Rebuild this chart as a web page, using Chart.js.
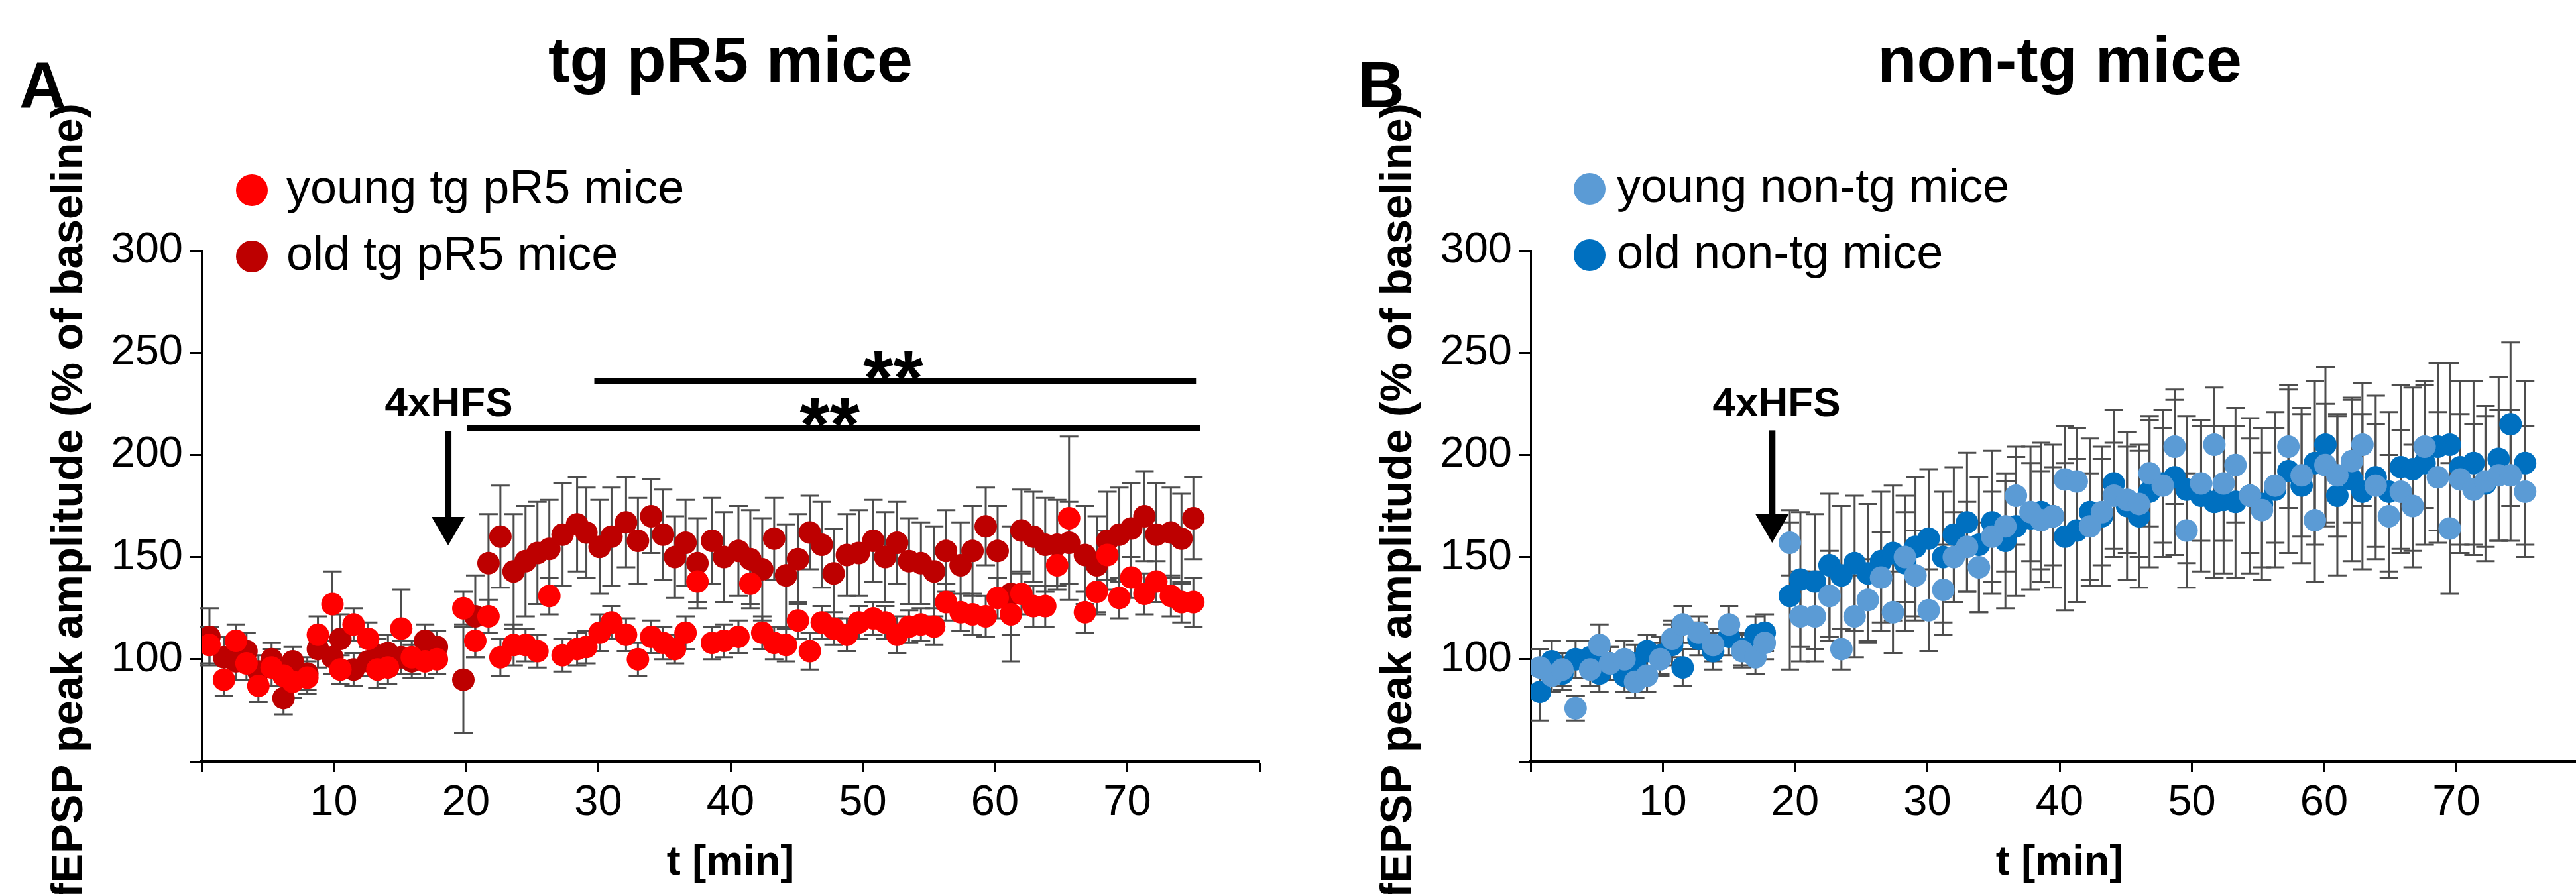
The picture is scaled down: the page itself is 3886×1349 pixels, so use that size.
<!DOCTYPE html>
<html>
<head>
<meta charset="utf-8">
<script src="https://cdn.jsdelivr.net/npm/chart.js@4.4.1/dist/chart.umd.min.js"></script>
<style>
  html, body { margin: 0; padding: 0; background: #fff; overflow: hidden; }
  body { width: 3886px; height: 1349px; position: relative; }
  .panel { position: absolute; top: 0; width: 1943px; height: 1349px; }
  #panelA { left: 0; }
  #panelB { left: 2005px; }
</style>
</head>
<body>
<div class="panel" id="panelA"><canvas id="chartA" width="1943" height="1349"></canvas></div>
<div class="panel" id="panelB"><canvas id="chartB" width="1943" height="1349"></canvas></div>
<script>
// Axis ticks (shared by both panels)
const xTickValues = [0, 10, 20, 30, 40, 50, 60, 70, 80];
const xTickLabels = ['', '10', '20', '30', '40', '50', '60', '70', ''];
const yTickValues = [50, 100, 150, 200, 250, 300];
const yTickLabels = ['', '100', '150', '200', '250', '300'];

// Panel A: tg pR5 mice, time points [min]
const timeA = [0.6, 1.7, 2.6, 3.4, 4.3, 5.3, 6.2, 6.9, 8.0, 8.8, 9.9, 10.5, 11.5, 12.6, 13.3, 14.1, 15.1, 15.9, 16.9, 17.8,
  19.8, 20.7, 21.7, 22.6, 23.6, 24.5, 25.4, 26.3, 27.3, 28.4, 29.1, 30.1, 31.0, 32.1, 33.0, 34.0, 34.9, 35.8, 36.6, 37.5,
  38.6, 39.5, 40.6, 41.5, 42.4, 43.3, 44.2, 45.1, 46.0, 46.9, 47.8, 48.8, 49.7, 50.8, 51.7, 52.6, 53.5, 54.4, 55.4, 56.3,
  57.4, 58.3, 59.3, 60.2, 61.2, 62.0, 62.9, 63.8, 64.7, 65.6, 66.8, 67.7, 68.5, 69.4, 70.3, 71.3, 72.2, 73.3, 74.1, 75.0];

const youngTg = [107, 90, 109, 98, 87, 96, 92, 89, 91, 112, 127, 95, 117, 110, 95, 96, 115, 101, 99, 100,
  125, 109, 121, 101, 107, 107, 104, 131, 102, 105, 106, 113, 118, 112, 100, 111, 108, 105, 113, 138,
  108, 109, 111, 137, 113, 108, 107, 119, 104, 118, 115, 112, 118, 120, 118, 112, 116, 117, 116, 128,
  123, 122, 121, 130, 122, 132, 126, 126, 146, 169, 123, 133, 151, 130, 140, 132, 138, 131, 128, 128];
const youngTgErr = [9, 8, 8, 8, 8, 9, 8, 8, 8, 9, 16, 7, 8, 8, 9, 8, 19, 8, 8, 7,
  8, 8, 8, 9, 10, 8, 8, 9, 8, 8, 8, 9, 8, 8, 8, 8, 8, 7, 8, 10,
  8, 8, 8, 10, 8, 8, 8, 9, 9, 8, 8, 8, 8, 8, 8, 9, 8, 8, 9, 9,
  9, 10, 10, 10, 10, 10, 10, 10, 10, 40, 10, 10, 12, 10, 10, 10, 10, 10, 10, 12];

const oldTg = [111, 101, 99, 104, 94, 100, 81, 99, 93, 105, 101, 110, 95, 99, 102, 103, 101, 99, 109, 106,
  90, 121, 147, 160, 143, 148, 152, 154, 161, 166, 162, 155, 160, 167, 158, 170, 161, 150, 157, 147,
  158, 150, 153, 149, 144, 159, 141, 149, 162, 156, 142, 151, 152, 158, 150, 157, 148, 147, 143, 153,
  146, 153, 165, 153, 132, 163, 160, 156, 156, 157, 151, 146, 158, 161, 164, 170, 161, 162, 159, 169];
const oldTgErr = [14, 10, 9, 9, 8, 8, 8, 7, 8, 9, 8, 12, 8, 7, 8, 9, 8, 8, 8, 8,
  26, 20, 24, 25, 28, 27, 25, 24, 25, 23, 22, 23, 24, 22, 21, 18, 22, 20, 21, 22,
  21, 22, 22, 24, 25, 20, 25, 22, 18, 21, 22, 20, 21, 20, 22, 20, 21, 20, 22, 20,
  21, 22, 19, 22, 33, 20, 22, 23, 22, 20, 24, 24, 24, 23, 22, 22, 25, 22, 22, 20];

// Panel B: non-tg mice, time points [min]
const timeB = [0.7, 1.6, 2.4, 3.4, 4.5, 5.2, 6.0, 7.1, 7.9, 8.8, 9.8, 10.7, 11.5, 12.7, 13.8, 15.0, 16.0, 17.0, 17.7,
  19.6, 20.4, 21.5, 22.6, 23.5, 24.5, 25.5, 26.5, 27.4, 28.3, 29.1, 30.1, 31.2, 32.0, 33.0, 33.9, 34.9, 35.9, 36.7, 37.8,
  38.6, 39.5, 40.4, 41.3, 42.3, 43.2, 44.1, 45.1, 46.0, 46.8, 47.8, 48.7, 49.6, 50.7, 51.7, 52.4, 53.3, 54.4, 55.3, 56.3,
  57.3, 58.3, 59.3, 60.1, 61.0, 62.1, 62.9, 63.9, 64.9, 65.8, 66.7, 67.6, 68.6, 69.5, 70.3, 71.3, 72.2, 73.2, 74.1, 75.2];

const youngNonTg = [96, 92, 95, 76, 95, 107, 98, 100, 89, 92, 100, 110, 117, 113, 107, 117, 104, 101, 108,
  157, 121, 121, 131, 105, 121, 129, 140, 123, 150, 141, 124, 134, 150, 155, 145, 160, 165, 180, 172,
  168, 170, 188, 187, 165, 172, 180, 178, 176, 191, 185, 204, 163, 186, 205, 186, 195, 180, 173, 185,
  204, 190, 168, 195, 190, 197, 205, 185, 170, 182, 175, 204, 189, 164, 188, 183, 187, 190, 190, 182];
const youngNonTgErr = [9, 8, 8, 6, 8, 10, 8, 9, 8, 8, 8, 9, 9, 8, 8, 9, 8, 8, 8,
  16, 22, 22, 22, 10, 20, 20, 22, 20, 22, 22, 20, 22, 22, 22, 22, 22, 22, 24, 24,
  24, 24, 26, 26, 26, 26, 26, 26, 26, 26, 28, 28, 28, 28, 28, 28, 28, 28, 28, 28,
  30, 30, 30, 30, 30, 30, 30, 30, 30, 30, 30, 30, 32, 32, 32, 32, 32, 32, 32, 32];

const oldNonTg = [84, 99, 93, 100, 101, 93, 98, 92, 98, 104, 102, 107, 96, 110, 104, 111, 105, 112, 113,
  131, 139, 138, 146, 141, 147, 142, 148, 152, 147, 155, 159, 150, 161, 167, 156, 167, 158, 165, 169,
  172, 170, 160, 163, 172, 170, 186, 175, 170, 182, 186, 189, 183, 180, 177, 178, 177, 180, 176, 183,
  192, 185, 196, 205, 180, 188, 182, 189, 182, 194, 193, 196, 204, 205, 194, 196, 186, 198, 215, 196];
const oldNonTgErr = [14, 10, 8, 9, 8, 9, 8, 8, 9, 8, 9, 10, 9, 8, 9, 9, 8, 9, 9,
  36, 33, 33, 35, 34, 33, 34, 34, 33, 33, 34, 34, 32, 33, 34, 33, 35, 33, 34, 35,
  34, 35, 36, 35, 36, 34, 36, 36, 35, 37, 36, 38, 36, 37, 37, 36, 37, 38, 37, 38,
  40, 38, 40, 38, 39, 40, 38, 40, 39, 40, 40, 40, 41, 40, 42, 40, 38, 40, 40, 40];

// 4xHFS arrow: [time, shaft top, arrow tip, label baseline] in data units
const hfsA = [18.65, 211.5, 155.7, 218.9];
const hfsB = [18.26, 212, 157, 219];
const hfsLabelAtA = 18.7;
const hfsLabelAtB = 18.6;

// significance bars in panel A (old vs young)
const sigStart = [20.1, 29.7];
const sigEnd = [75.5, 75.2];
const sigLevel = [213.3, 236.1];
const sigLabelAt = [47.5, 52.3];

const FONT = "'Liberation Sans', Arial, Helvetica, sans-serif";
Chart.defaults.font.family = FONT;
Chart.defaults.color = '#000';

function panelPlugin(panel) {
  return {
    id: 'panelDecor',
    // error bars sit behind the dots
    beforeDatasetsDraw(chart) {
      const ctx = chart.ctx;
      const y = chart.scales.y;
      ctx.save();
      ctx.strokeStyle = '#4d4d4d';
      ctx.lineWidth = 3;
      chart.data.datasets.forEach((ds, i) => {
        const meta = chart.getDatasetMeta(i);
        meta.data.forEach((pt, j) => {
          const v = ds.data[j].y, e = ds.errors[j];
          const y1 = y.getPixelForValue(v - e), y2 = y.getPixelForValue(v + e);
          ctx.beginPath();
          ctx.moveTo(pt.x, y1); ctx.lineTo(pt.x, y2);
          ctx.moveTo(pt.x - 14, y1); ctx.lineTo(pt.x + 14, y1);
          ctx.moveTo(pt.x - 14, y2); ctx.lineTo(pt.x + 14, y2);
          ctx.stroke();
        });
      });
      ctx.restore();
    },
    afterDraw(chart) {
      const ctx = chart.ctx;
      const xs = chart.scales.x, ys = chart.scales.y;
      const area = chart.chartArea;
      ctx.save();
      ctx.fillStyle = '#000';
      ctx.strokeStyle = '#000';

      // panel letter
      ctx.font = 'bold 98px ' + FONT;
      ctx.textAlign = 'left';
      ctx.textBaseline = 'alphabetic';
      ctx.fillText(panel.letter, panel.letterX, 162);

      // title
      ctx.font = 'bold 97px ' + FONT;
      ctx.textAlign = 'center';
      ctx.fillText(panel.title, (area.left + area.right) / 2, 123);

      // legend
      ctx.font = '72px ' + FONT;
      ctx.textAlign = 'left';
      chart.data.datasets.forEach((ds, i) => {
        const cy = panel.legendY[i];
        ctx.fillStyle = ds.backgroundColor;
        ctx.beginPath();
        ctx.arc(panel.legendMarkerX, cy - 20, 24, 0, Math.PI * 2);
        ctx.fill();
        ctx.fillStyle = '#000';
        ctx.fillText(ds.label, panel.legendTextX, cy);
      });

      // y axis title
      ctx.save();
      ctx.font = 'bold 67px ' + FONT;
      ctx.translate(124, (area.top + area.bottom) / 2 - 8);
      ctx.rotate(-Math.PI / 2);
      ctx.textAlign = 'center';
      ctx.fillText('fEPSP peak amplitude (% of baseline)', 0, 0);
      ctx.restore();

      // 4xHFS arrow
      const h = panel.hfs;
      const ax = xs.getPixelForValue(h[0]);
      const top = ys.getPixelForValue(h[1]);
      const tip = ys.getPixelForValue(h[2]);
      ctx.fillRect(ax - 5, top, 10, tip - 43 - top + 1);
      ctx.beginPath();
      ctx.moveTo(ax - 25, tip - 43);
      ctx.lineTo(ax + 25, tip - 43);
      ctx.lineTo(ax, tip);
      ctx.closePath();
      ctx.fill();
      ctx.font = 'bold 62px ' + FONT;
      ctx.textAlign = 'center';
      ctx.fillText('4xHFS', xs.getPixelForValue(panel.hfsLabelAt), ys.getPixelForValue(h[3]));

      // significance bars
      if (panel.sig) {
        ctx.lineWidth = 9;
        ctx.font = 'bold 116px ' + FONT;
        panel.sig.start.forEach((s, i) => {
          const ly = ys.getPixelForValue(panel.sig.level[i]);
          ctx.beginPath();
          ctx.moveTo(xs.getPixelForValue(s), ly);
          ctx.lineTo(xs.getPixelForValue(panel.sig.end[i]), ly);
          ctx.stroke();
          ctx.fillText('**', xs.getPixelForValue(panel.sig.labelAt[i]), ly + 36);
        });
      }
      ctx.restore();
    }
  };
}

function makeChart(canvasId, panel) {
  const datasets = panel.series.map(s => ({
    label: s.label,
    data: panel.time.map((t, i) => ({ x: t, y: s.values[i] })),
    errors: s.errors,
    backgroundColor: s.color,
    borderColor: s.color,
    pointRadius: 17,
    pointHoverRadius: 17,
    pointBorderWidth: 0,
    showLine: false
  }));

  return new Chart(document.getElementById(canvasId), {
    type: 'scatter',
    data: { datasets: datasets },
    options: {
      responsive: false,
      animation: false,
      devicePixelRatio: 1,
      layout: { padding: { top: 378, right: 43, left: 0, bottom: 0 } },
      plugins: {
        legend: { display: false },
        tooltip: { enabled: false }
      },
      scales: {
        x: {
          type: 'linear',
          min: 0,
          max: 80,
          afterBuildTicks: scale => { scale.ticks = xTickValues.map(v => ({ value: v })); },
          afterFit: scale => { scale.height = 200; },
          ticks: {
            font: { size: 65 },
            color: '#000',
            padding: 8,
            maxRotation: 0,
            autoSkip: false,
            callback: (val, i) => xTickLabels[i]
          },
          grid: { drawOnChartArea: false, drawTicks: true, tickLength: 16, tickWidth: 3, tickColor: '#000' },
          border: { display: true, color: '#000', width: 5 },
          title: {
            display: true,
            text: 't [min]',
            font: { size: 63, weight: 'bold' },
            color: '#000',
            padding: { top: 0, bottom: 9 }
          }
        },
        y: {
          type: 'linear',
          min: 50,
          max: 300,
          afterBuildTicks: scale => { scale.ticks = yTickValues.map(v => ({ value: v })); },
          afterFit: scale => { scale.width = 304; },
          ticks: {
            font: { size: 65 },
            color: '#000',
            padding: 10,
            autoSkip: false,
            callback: (val, i) => yTickLabels[i]
          },
          grid: { drawOnChartArea: false, drawTicks: true, tickLength: 18, tickWidth: 3, tickColor: '#000' },
          border: { display: true, color: '#000', width: 3 }
        }
      }
    },
    plugins: [panelPlugin(panel)]
  });
}

makeChart('chartA', {
  letter: 'A',
  letterX: 29,
  title: 'tg pR5 mice',
  legendY: [307, 407],
  legendMarkerX: 380,
  legendTextX: 432,
  time: timeA,
  series: [
    { label: 'young tg pR5 mice', values: youngTg, errors: youngTgErr, color: '#ff0000' },
    { label: 'old tg pR5 mice', values: oldTg, errors: oldTgErr, color: '#bd0000' }
  ],
  hfs: hfsA,
  hfsLabelAt: hfsLabelAtA,
  sig: { start: sigStart, end: sigEnd, level: sigLevel, labelAt: sigLabelAt }
});

makeChart('chartB', {
  letter: 'B',
  letterX: 43,
  title: 'non-tg mice',
  legendY: [305, 405],
  legendMarkerX: 393,
  legendTextX: 434,
  time: timeB,
  series: [
    { label: 'young non-tg mice', values: youngNonTg, errors: youngNonTgErr, color: '#5b9bd5' },
    { label: 'old non-tg mice', values: oldNonTg, errors: oldNonTgErr, color: '#0070c0' }
  ],
  hfs: hfsB,
  hfsLabelAt: hfsLabelAtB,
  sig: null
});
</script>
</body>
</html>
